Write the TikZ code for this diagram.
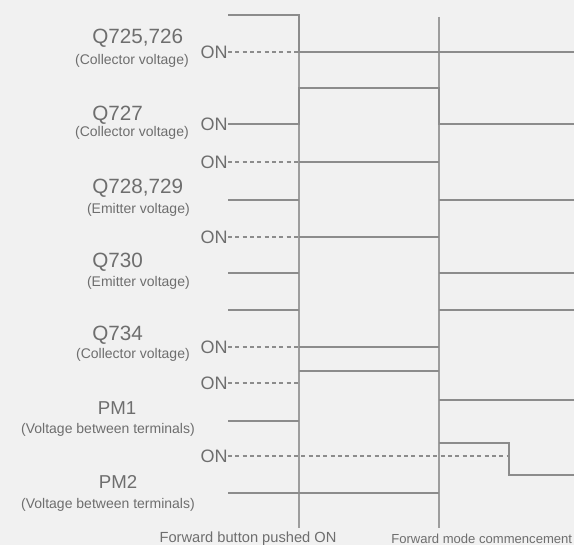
\documentclass[tikz,border=0pt]{standalone}
\usepackage{fontspec}
\setmainfont{Liberation Sans}
\definecolor{bg}{HTML}{F1F1F1}
\definecolor{ln}{HTML}{8C8C8C}
\definecolor{tx}{HTML}{6E6E6E}
\tikzset{
  sig/.style={draw=ln, line width=1.7pt},
  markline/.style={draw=ln!85, line width=1.4pt},
  ondash/.style={draw=ln, line width=1.1pt, dash pattern=on 3pt off 2.5pt},
  qlab/.style={text=tx, font=\fontsize{15.5}{16}\selectfont, inner sep=0pt, anchor=west},
  pmlab/.style={text=tx, font=\fontsize{14}{15}\selectfont, inner sep=0pt},
  sublab/.style={text=tx, font=\fontsize{10.5}{11}\selectfont, inner sep=0pt, anchor=east},
  onlab/.style={text=tx, font=\fontsize{13.5}{14}\selectfont, inner sep=0pt, anchor=east},
  botlab/.style={text=tx, font=\fontsize{11}{12}\selectfont, inner sep=0pt},
}
\begin{document}
\begin{tikzpicture}[x=0.75pt,y=-0.75pt]
\fill[bg] (0,0) rectangle (574,545);
\useasboundingbox (0,0) rectangle (574,545);
% marker lines
\coordinate (m1t) at (299,15); \coordinate (m1b) at (299,528);
\coordinate (m2t) at (439,17); \coordinate (m2b) at (439,528);
\draw[markline] (m1t) -- (m1b);
\draw[markline] (m2t) -- (m2b);
% labels
\node[qlab] (q1) at (92,38) {Q725,726};
\node[sublab] (s1) at (189,61) {(Collector voltage)};
\node[qlab] (q2) at (92,115) {Q727};
\node[sublab] (s2) at (189,133) {(Collector voltage)};
\node[qlab] (q3) at (92,188) {Q728,729};
\node[sublab] (s3) at (190,210) {(Emitter voltage)};
\node[qlab] (q4) at (92,262) {Q730};
\node[sublab] (s4) at (190,283) {(Emitter voltage)};
\node[qlab] (q5) at (92,335) {Q734};
\node[sublab] (s5) at (190,355) {(Collector voltage)};
\node[pmlab] (p1) at (117,408) {PM1};
\node[sublab] (s6) at (195,430) {(Voltage between terminals)};
\node[pmlab] (p2) at (118,482) {PM2};
\node[sublab] (s7) at (195,505) {(Voltage between terminals)};
% ON labels
\node[onlab] (on1) at (228,52) {ON};
\node[onlab] (on2) at (228,124) {ON};
\node[onlab] (on3) at (228,162) {ON};
\node[onlab] (on4) at (228,237) {ON};
\node[onlab] (on5) at (228,347) {ON};
\node[onlab] (on6) at (228,383) {ON};
\node[onlab] (on7) at (228,456) {ON};
% Q725,726
\draw[sig] (228,15) -- (299,15) -- (299,52) -- (574,52);
\draw[ondash] (on1.east) -- (299,52);
% Q727
\draw[sig] (on2.east) -- (299,124) -- (299,88) -- (439,88) -- (439,124) -- (574,124);
% Q728,729
\draw[ondash] (on3.east) -- (299,162);
\draw[sig] (299,162) -- (439,162);
\draw[sig] (228,200) -- (299,200);
\draw[sig] (439,200) -- (574,200);
% Q730
\draw[ondash] (on4.east) -- (299,237);
\draw[sig] (299,237) -- (439,237);
\draw[sig] (228,273) -- (299,273);
\draw[sig] (439,273) -- (574,273);
% Q734
\draw[sig] (228,310) -- (299,310);
\draw[ondash] (on5.east) -- (299,347);
\draw[sig] (299,347) -- (439,347);
\draw[sig] (439,310) -- (574,310);
% PM1
\draw[ondash] (on6.east) -- (299,383);
\draw[sig] (228,421) -- (299,421);
\draw[sig] (299,371) -- (439,371);
\draw[sig] (439,400) -- (574,400);
% PM2
\draw[ondash] (on7.east) -- (509,456);
\draw[sig] (228,493) -- (439,493);
\draw[sig] (439,443) -- (509,443) -- (509,475) -- (574,475);
% bottom labels
\node[botlab] (b1) at (248,539) {Forward button pushed ON};
\node[botlab, anchor=west, font=\fontsize{9.8}{11}\selectfont] (b2) at (391,539) {Forward mode commencement};
\end{tikzpicture}
\end{document}
